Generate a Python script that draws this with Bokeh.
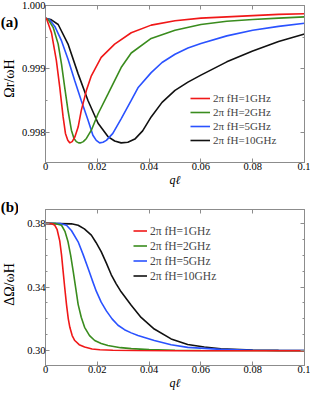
import math
from bokeh.plotting import figure
from bokeh.models import (Range1d, FixedTicker, CustomJSTickFormatter, LinearAxis,
                          Label, Legend, LegendItem)
from bokeh.layouts import column, row
from bokeh.embed import file_html
from bokeh.resources import INLINE

# ---------------- data ----------------
series_labels = ["2π fH=1GHz", "2π fH=2GHz", "2π fH=5GHz", "2π fH=10GHz"]
series_colors = ["#f01818", "#3a8c1e", "#2a52ff", "#111111"]

# panel (a): Omega_r / omega_H
qa_red = [0, 0.0004, 0.0023, 0.0042, 0.0055, 0.0068, 0.0077, 0.0086, 0.0094, 0.0103,
          0.0113, 0.0126, 0.0138, 0.0158, 0.0177, 0.0215, 0.0267, 0.0331, 0.0408,
          0.05, 0.06, 0.07, 0.08, 0.09, 0.1]
va_red = [0.99980, 0.99979, 0.99957, 0.99913, 0.99871, 0.99824, 0.99798, 0.99787,
          0.99783, 0.99785, 0.99792, 0.99808, 0.99834, 0.99866, 0.99889, 0.99918,
          0.99939, 0.99957, 0.99969, 0.99976, 0.99980, 0.99982, 0.99984, 0.99986, 0.99987]

qa_green = [0, 0.0010, 0.0030, 0.0049, 0.0062, 0.0074, 0.0087, 0.0100, 0.0110, 0.0119,
            0.0128, 0.0136, 0.0146, 0.0158, 0.0177, 0.0203, 0.0241, 0.0292, 0.0331,
            0.0408, 0.05, 0.06, 0.07, 0.08, 0.09, 0.1]
va_green = [0.99980, 0.99978, 0.99965, 0.99939, 0.99907, 0.99871, 0.99834, 0.99803,
            0.99790, 0.99785, 0.99783, 0.99783, 0.99785, 0.99790, 0.99803, 0.99829,
            0.99860, 0.99902, 0.99925, 0.99948, 0.99961, 0.99970, 0.99975, 0.99978,
            0.99980, 0.99982]

qa_blue = [0, 0.0015, 0.0036, 0.0062, 0.0087, 0.0113, 0.0138, 0.0164, 0.0183, 0.0196,
           0.0209, 0.0222, 0.0235, 0.0260, 0.0292, 0.0331, 0.0357, 0.0408, 0.045,
           0.05, 0.055, 0.06, 0.07, 0.08, 0.09, 0.1]
va_blue = [0.99980, 0.99978, 0.99967, 0.99944, 0.99915, 0.99881, 0.99850, 0.99819,
           0.99795, 0.99787, 0.99783, 0.99784, 0.99787, 0.99798, 0.99821, 0.99850,
           0.99870, 0.99894, 0.99910, 0.99923, 0.99933, 0.99940, 0.99952, 0.99961,
           0.99967, 0.99972]

qa_black = [0, 0.002, 0.0049, 0.0087, 0.0126, 0.0164, 0.0203, 0.0241, 0.0267, 0.0292,
            0.0318, 0.0345, 0.0375, 0.0408, 0.0450, 0.0500, 0.0550, 0.06, 0.07,
            0.08, 0.09, 0.1]
va_black = [0.99980, 0.99978, 0.99970, 0.99939, 0.99892, 0.99850, 0.99814, 0.99793,
            0.99786, 0.99783, 0.99784, 0.99789, 0.99802, 0.99824, 0.99847, 0.99866,
            0.99879, 0.99890, 0.99911, 0.99928, 0.99943, 0.99955]

# panel (b): Delta Omega / omega_H
qb_red = [0, 0.0025, 0.0036, 0.0045, 0.0055, 0.0062, 0.0068, 0.0074, 0.0081, 0.0088,
          0.0094, 0.0103, 0.0113, 0.0130, 0.0151, 0.0180, 0.0210, 0.0260, 0.0350, 0.05, 0.1]
vb_red = [0.3800, 0.3797, 0.3788, 0.3760, 0.3690, 0.3600, 0.3500, 0.3400, 0.3291, 0.3200,
          0.3147, 0.3095, 0.3064, 0.3038, 0.3023, 0.3011, 0.3006, 0.3003, 0.3001, 0.3000, 0.3000]

qb_green = [0, 0.0040, 0.0062, 0.0075, 0.0087, 0.0097, 0.0107, 0.0117, 0.0126, 0.0138,
            0.0151, 0.0170, 0.0190, 0.0215, 0.0241, 0.0290, 0.0331, 0.040, 0.050, 0.060, 0.1]
vb_green = [0.3800, 0.3798, 0.3788, 0.3750, 0.3684, 0.3600, 0.3498, 0.3390, 0.3291, 0.3210,
            0.3147, 0.3095, 0.3064, 0.3045, 0.3033, 0.3019, 0.3013, 0.3007, 0.3003, 0.3001, 0.3000]

qb_blue = [0, 0.0060, 0.0081, 0.0100, 0.0126, 0.0145, 0.0164, 0.0180, 0.0196, 0.0215,
           0.0235, 0.0257, 0.0280, 0.0305, 0.0331, 0.0357, 0.0420, 0.0485, 0.0549, 0.0677,
           0.080, 0.1]
vb_blue = [0.3800, 0.3798, 0.3788, 0.3755, 0.3684, 0.3605, 0.3519, 0.3445, 0.3374, 0.3305,
           0.3250, 0.3200, 0.3160, 0.3132, 0.3112, 0.3095, 0.3064, 0.3037, 0.3021, 0.3008,
           0.3003, 0.3001]

qb_black = [0, 0.0100, 0.0126, 0.0150, 0.0177, 0.0195, 0.0215, 0.0235, 0.0254, 0.0273,
            0.0292, 0.0331, 0.0369, 0.0420, 0.0485, 0.0549, 0.0613, 0.0677, 0.080, 0.090, 0.1]
vb_black = [0.3800, 0.3797, 0.3788, 0.3765, 0.3726, 0.3680, 0.3622, 0.3550, 0.3477, 0.3420,
            0.3370, 0.3285, 0.3209, 0.3136, 0.3074, 0.3039, 0.3023, 0.3012, 0.3004, 0.3002, 0.3001]

x_ticks = [0, 0.02, 0.04, 0.06, 0.08, 0.1]
ya_ticks = [0.998, 0.999, 1.000]
ya_minor = [0.9975, 0.9985, 0.9995]
yb_ticks = [0.30, 0.34, 0.38]
yb_minor = [0.29, 0.31, 0.32, 0.33, 0.35, 0.36, 0.37]

# ---------------- styling ----------------
GRAY = "#8c8c8c"
SERIF = "Liberation Serif"
TICK_PX = "10.5px"
LEFT_W = 18          # narrow side strip holding panel letters and y-axis titles
HA, HB = 189, 203
TOTAL_H = HA + HB

x_fmt = CustomJSTickFormatter(code="""
let s = tick.toFixed(2); s = s.replace(/0+$/, ''); if (s.endsWith('.')) s = s.slice(0, -1); return s;
""")
blank_fmt = CustomJSTickFormatter(code="return '';")


def style_axes(p, yticks, yminor, ydigits):
    p.xaxis.ticker = FixedTicker(ticks=x_ticks, minor_ticks=[])
    p.xaxis.formatter = x_fmt
    p.yaxis.ticker = FixedTicker(ticks=yticks, minor_ticks=yminor)
    p.yaxis.formatter = CustomJSTickFormatter(code="return tick.toFixed(%d);" % ydigits)
    for ax in (p.xaxis[0], p.yaxis[0]):
        ax.axis_line_color = GRAY
        ax.major_tick_line_color = GRAY
        ax.minor_tick_line_color = GRAY
        ax.major_tick_in = 4
        ax.major_tick_out = 0
        ax.minor_tick_in = 2
        ax.minor_tick_out = 0
        ax.major_label_text_font = SERIF
        ax.major_label_text_font_size = TICK_PX
        ax.major_label_text_color = "black"
        ax.major_label_standoff = 0
    p.xaxis.axis_label = "qℓ"
    p.xaxis.axis_label_text_font = SERIF
    p.xaxis.axis_label_text_font_style = "italic"
    p.xaxis.axis_label_text_font_size = "12px"
    p.xaxis.axis_label_standoff = 0
    p.xaxis.axis_label_text_color = "black"
    # mirror axes (ticks only)
    top = LinearAxis(ticker=FixedTicker(ticks=x_ticks, minor_ticks=[]), formatter=blank_fmt,
                     major_label_standoff=0,
                     axis_line_color=GRAY, major_tick_line_color=GRAY,
                     major_tick_in=4, major_tick_out=0)
    right = LinearAxis(ticker=FixedTicker(ticks=yticks, minor_ticks=yminor), formatter=blank_fmt,
                       major_label_standoff=0,
                       axis_line_color=GRAY, major_tick_line_color=GRAY,
                       minor_tick_line_color=GRAY,
                       major_tick_in=4, major_tick_out=0, minor_tick_in=2, minor_tick_out=0)
    p.add_layout(top, "above")
    p.add_layout(right, "right")
    p.outline_line_color = GRAY
    p.xgrid.visible = False
    p.ygrid.visible = False


def make_fig(height, top_border, bottom_border, yrange, qs, vs, yticks, yminor, ydigits,
             legend_loc, glyph_w, row_h, font_px):
    p = figure(width=292, height=height, x_range=Range1d(0, 0.1), y_range=Range1d(*yrange),
               output_backend="svg", toolbar_location=None,
               min_border_left=26, min_border_right=6, min_border_top=top_border,
               min_border_bottom=bottom_border, background_fill_color="white",
               border_fill_color="white")
    style_axes(p, yticks, yminor, ydigits)
    rends = [None] * 4
    # draw black first so that red ends up on top
    for i in reversed(range(4)):
        rends[i] = p.line(qs[i], vs[i], line_color=series_colors[i], line_width=1.6)
    items = [LegendItem(label=lab, renderers=[r]) for lab, r in zip(series_labels, rends)]
    leg = Legend(items=items, location=legend_loc, padding=0, margin=0, spacing=0,
                 glyph_width=glyph_w, glyph_height=row_h, label_height=row_h,
                 label_standoff=3, label_text_font=SERIF, label_text_font_size=font_px,
                 label_text_baseline="middle",
                 border_line_color=None, background_fill_alpha=0)
    p.add_layout(leg, "center")
    return p


pa = make_fig(HA, 5, 27, (0.99752, 1.0),
              [qa_red, qa_green, qa_blue, qa_black], [va_red, va_green, va_blue, va_black],
              ya_ticks, ya_minor, 3, (145, 15), 20, 14, "11px")
pb = make_fig(HB, 20, 27, (0.2907, 0.3887),
              [qb_red, qb_green, qb_blue, qb_black], [vb_red, vb_green, vb_blue, vb_black],
              yb_ticks, yb_minor, 2, (88, 82), 14, 15, "11.5px")

# one tall strip on the left for panel letters and y-axis titles
strip = figure(width=LEFT_W, height=TOTAL_H, x_range=Range1d(0, 1), y_range=Range1d(0, 1),
               output_backend="svg", toolbar_location=None, min_border=0,
               x_axis_location=None, y_axis_location=None, outline_line_color=None,
               background_fill_color="white", border_fill_color="white")
strip.grid.visible = False


def letter(text, page_y):
    strip.add_layout(Label(x=0.2, y=TOTAL_H - page_y, x_units="screen", y_units="screen",
                           text=text, text_font=SERIF, text_font_size="15px",
                           text_font_style="bold", text_baseline="middle",
                           text_align="left", text_color="black"))


def vtitle(text, size, page_y_center):
    strip.add_layout(Label(x=9, y=TOTAL_H - page_y_center, x_units="screen", y_units="screen",
                           text=text, angle=90, angle_units="deg", text_font=SERIF,
                           text_font_size="%gpx" % size, text_align="center",
                           text_baseline="middle", text_color="black"))


letter("(a)", 21)
letter("(b)", 206)
vtitle("Ωr/ωH", 14, 78)
vtitle("ΔΩ/ωH", 14, 284)

layout = row(strip, column(pa, pb, spacing=0), spacing=0)
open("out.html", "w").write(file_html(layout, INLINE))
